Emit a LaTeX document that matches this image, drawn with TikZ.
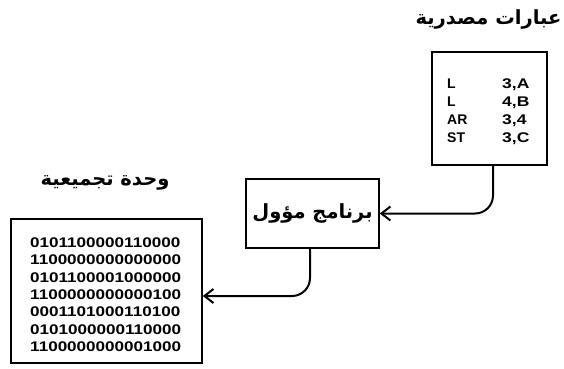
\documentclass[tikz,border=0pt]{standalone}
\usepackage{fontspec}
\setmainfont{Liberation Sans}
\newfontfamily\arabicfont[Script=Arabic]{DejaVu Sans}
\TeXXeTstate=1
\usetikzlibrary{arrows.meta}
\begin{document}
\begin{tikzpicture}[x=1pt,y=1pt,
  box/.style={draw, line width=1.6pt, inner sep=0pt},
  conn/.style={line width=2pt, -{Straight Barb[length=9pt,width=14pt]}, rounded corners=18pt},
  ar/.style={font=\arabicfont\bfseries\fontsize{19.5}{22}\selectfont, inner sep=0pt},
  code/.style={font=\bfseries\fontsize{14}{16}\selectfont, inner sep=0pt, anchor=base west}]
\useasboundingbox (0,0) rectangle (564,-368);
% boxes
\node[box, minimum width=115pt, minimum height=113pt] (src) at (489.5,-108.5) {};
\node[box, minimum width=133pt, minimum height=69pt, ar] (prog) at (312.5,-213.5) {\beginR برنامج مؤول\endR};
\node[box, minimum width=191pt, minimum height=144pt] (obj) at (106.5,-291) {};
% labels
\node[ar] (srclabel) at (488.5,-19) {\beginR عبارات مصدرية\endR};
\node[ar] (objlabel) at (105,-182.5) {\beginR وحدة تجميعية\endR};
% source statements
\node[code] (s1a) at (447,-88) {L};
\node[code] (s1b) at (502,-88) {\scalebox{1.25}[1]{3,A}};
\node[code] (s2a) at (447,-106) {L};
\node[code] (s2b) at (502,-106) {\scalebox{1.25}[1]{4,B}};
\node[code] (s3a) at (447,-124) {AR};
\node[code] (s3b) at (502,-124) {\scalebox{1.25}[1]{3,4}};
\node[code] (s4a) at (447,-142) {ST};
\node[code] (s4b) at (502,-142) {\scalebox{1.25}[1]{3,C}};
% object code
\foreach \t [count=\i from 0] in {0101100000110000,1100000000000000,0101100001000000,1100000000000100,0001101000110100,0101000000110000,1100000000001000}{
  \node[code] (b\i) at (30,-247.3-17.4*\i) {\scalebox{1.22}[1]{\t}};
}
% connectors
\draw[conn] ([xshift=3.5pt]src.south) |- (prog.east);
\draw[conn] ([xshift=-2.5pt]prog.south) |- ([yshift=-5pt]obj.east);
\end{tikzpicture}
\end{document}
